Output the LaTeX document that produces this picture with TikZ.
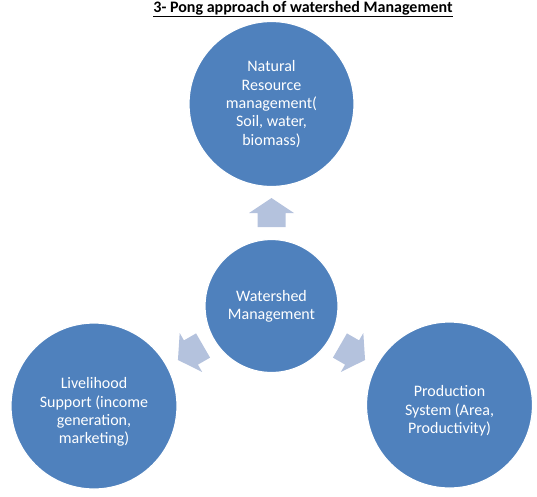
\documentclass[tikz,border=0pt]{standalone}
\usepackage{fontspec}
\setmainfont{Carlito}
\definecolor{circblue}{HTML}{4F81BD}
\definecolor{arrowblue}{HTML}{B4C2DD}
\begin{document}
\begin{tikzpicture}[x=1pt,y=-1pt,
  circ/.style={circle,fill=circblue,draw=white,line width=1.2pt,inner sep=0pt},
  circtext/.style={text=white,align=center,inner sep=0pt,font=\fontsize{16}{18.3}\selectfont},
  arrowshape/.style={fill=arrowblue,draw=none}]
\useasboundingbox (0,0) rectangle (537,496);
\node[font=\bfseries\fontsize{16}{19}\selectfont,anchor=base] (title) at (303,12) {\underline{3- Pong approach of watershed Management}};
\node[circ,minimum size=165pt] (nrm) at (271.5,104) {};
\node[circ,minimum size=133pt] (wm) at (271.5,306) {};
\node[circ,minimum size=166pt] (ls) at (94,406) {};
\node[circ,minimum size=166pt] (ps) at (449.5,405) {};
\node[circtext] (nrmtext) at (nrm.center) {Natural\\Resource\\management(\\Soil, water,\\biomass)};
\node[circtext] (wmtext) at (wm.center) {Watershed\\Management};
\node[circtext] (lstext) at ([yshift=-6pt]ls.center) {Livelihood\\Support (income\\generation,\\marketing)};
\node[circtext] (pstext) at ([yshift=-6pt]ps.center) {Production\\System (Area,\\Productivity)};
\foreach \ang/\px/\py in {0/271.5/212.5, 120/190.5/352.75, -120/352.5/352.75}{
  \begin{scope}[shift={(\px,\py)},rotate=\ang]
    \fill[arrowshape] (0,-14.5) -- (22.5,0.5) -- (14,0.5) -- (14,14.5) -- (-14,14.5) -- (-14,0.5) -- (-22.5,0.5) -- cycle;
  \end{scope}
}
\end{tikzpicture}
\end{document}
